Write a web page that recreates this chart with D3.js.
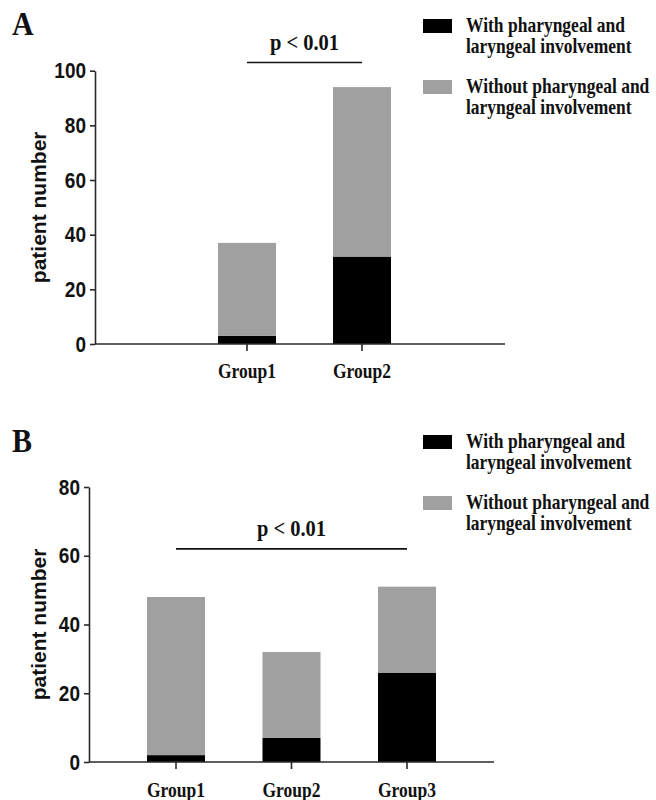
<!DOCTYPE html>
<html>
<head>
<meta charset="utf-8">
<script src="https://cdn.jsdelivr.net/npm/d3@7"></script>
<style>
  html, body { margin: 0; padding: 0; background: #fff; }
  svg { display: block; }
</style>
</head>
<body>
<svg id="chart" width="656" height="800"></svg>
<script>
// ---- Data ----
const seriesNames = ["With pharyngeal and laryngeal involvement", "Without pharyngeal and laryngeal involvement"];
const legendLines = [["With pharyngeal and", "laryngeal involvement"], ["Without pharyngeal and", "laryngeal involvement"]];

const groupsA = ["Group1", "Group2"];
const withA = [3, 32];
const withoutA = [34, 62];
const ticksA = [0, 20, 40, 60, 80, 100];

const groupsB = ["Group1", "Group2", "Group3"];
const withB = [2, 7, 26];
const withoutB = [46, 25, 25];
const ticksB = [0, 20, 40, 60, 80];

const yTitle = "patient number";
const pText = "p < 0.01";

// ---- Styles ----
const colors = ["#000000", "#a0a0a0"];
const axisColor = "#2a2a2a";
const sansBold = "'Liberation Sans', Arial, sans-serif";
const serifBold = "'Liberation Serif', 'Times New Roman', serif";
const STRETCH = 1.15;

const svg = d3.select("#chart");

function stretchedText(parent, x, y, txt, family, size, anchor) {
  return parent.append("text")
    .attr("transform", `translate(${x},${y}) scale(1,${STRETCH})`)
    .attr("text-anchor", anchor || "start")
    .style("font-family", family).style("font-weight", "bold").style("font-size", size + "px")
    .attr("fill", "#111")
    .text(txt);
}

function panel(cfg) {
  const g = svg.append("g");
  const y = d3.scaleLinear().domain([0, cfg.ymax]).range([cfg.y0, cfg.yTop]);
  const x = d3.scalePoint().domain(cfg.groups).range([cfg.xFirst, cfg.xLast]);
  const barW = 58;

  const rows = cfg.groups.map((grp, i) => ({ group: grp, s0: cfg.withV[i], s1: cfg.withoutV[i] }));
  const stack = d3.stack().keys(["s0", "s1"])(rows);

  // bars
  stack.forEach((layer, li) => {
    g.append("g").selectAll("rect").data(layer).join("rect")
      .attr("x", d => x(d.data.group) - barW / 2)
      .attr("width", barW)
      .attr("y", d => y(d[1]))
      .attr("height", d => y(d[0]) - y(d[1]))
      .attr("fill", colors[li]);
  });

  // y axis
  const yAxis = g.append("g")
    .attr("transform", `translate(${cfg.xAxis},0)`)
    .call(d3.axisLeft(y).tickValues(cfg.ticks).tickSize(5).tickPadding(4).tickSizeOuter(0));
  yAxis.select(".domain").attr("stroke", axisColor).attr("stroke-width", 1.6);
  yAxis.selectAll(".tick line").attr("stroke", axisColor).attr("stroke-width", 1.6);
  yAxis.selectAll(".tick text")
    .attr("transform", `scale(1,${STRETCH})`)
    .attr("fill", "#111").style("font-family", sansBold).style("font-weight", "bold").style("font-size", "19px");

  // x axis
  const xAxisG = g.append("g").attr("transform", `translate(0,${cfg.y0})`);
  xAxisG.append("line")
    .attr("x1", cfg.xAxis).attr("x2", cfg.xEnd)
    .attr("stroke", axisColor).attr("stroke-width", 1.6);
  xAxisG.selectAll("line.tk").data(cfg.groups).join("line").attr("class", "tk")
    .attr("x1", d => x(d)).attr("x2", d => x(d))
    .attr("y1", 0).attr("y2", 7)
    .attr("stroke", axisColor).attr("stroke-width", 1.6);
  cfg.groups.forEach(grp => {
    stretchedText(xAxisG, x(grp), cfg.groupLabelDy, grp, serifBold, 17.5, "middle");
  });

  // y title
  g.append("text")
    .attr("transform", `translate(46,${(cfg.y0 + cfg.yTop) / 2}) rotate(-90)`)
    .attr("text-anchor", "middle")
    .style("font-family", sansBold).style("font-weight", "bold").style("font-size", "21px")
    .attr("fill", "#111")
    .text(yTitle);

  // significance
  const sx1 = x(cfg.sig[0]), sx2 = x(cfg.sig[1]);
  const sy = y(cfg.sigVal);
  g.append("line").attr("x1", sx1).attr("x2", sx2).attr("y1", sy).attr("y2", sy)
    .attr("stroke", "#111").attr("stroke-width", 1.6);
  stretchedText(g, (sx1 + sx2) / 2, sy - 13, pText, serifBold, 20.5, "middle");

  // panel letter
  stretchedText(g, 12, cfg.letterY, cfg.letter, serifBold, 30, "start");

  // legend
  const lg = g.append("g").attr("transform", `translate(423,${cfg.legendTop})`);
  legendLines.forEach((lines, i) => {
    const oy = i * 61;
    lg.append("rect").attr("x", 0).attr("y", oy).attr("width", 29).attr("height", 14)
      .attr("fill", colors[i]);
    lines.forEach((t, j) => {
      stretchedText(lg, 43, oy + 13 + j * 21, t, serifBold, 17.5, "start");
    });
  });
}

panel({
  letter: "A", letterY: 35,
  groups: groupsA, withV: withA, withoutV: withoutA, ticks: ticksA,
  ymax: 100, y0: 344, yTop: 70.7,
  xAxis: 95, xEnd: 505, xFirst: 247, xLast: 362,
  groupLabelDy: 34, sig: ["Group1", "Group2"], sigVal: 103,
  legendTop: 19
});

panel({
  letter: "B", letterY: 452,
  groups: groupsB, withV: withB, withoutV: withoutB, ticks: ticksB,
  ymax: 80, y0: 762, yTop: 487,
  xAxis: 89, xEnd: 494, xFirst: 176, xLast: 407,
  groupLabelDy: 35, sig: ["Group1", "Group3"], sigVal: 62,
  legendTop: 435
});
</script>
</body>
</html>
